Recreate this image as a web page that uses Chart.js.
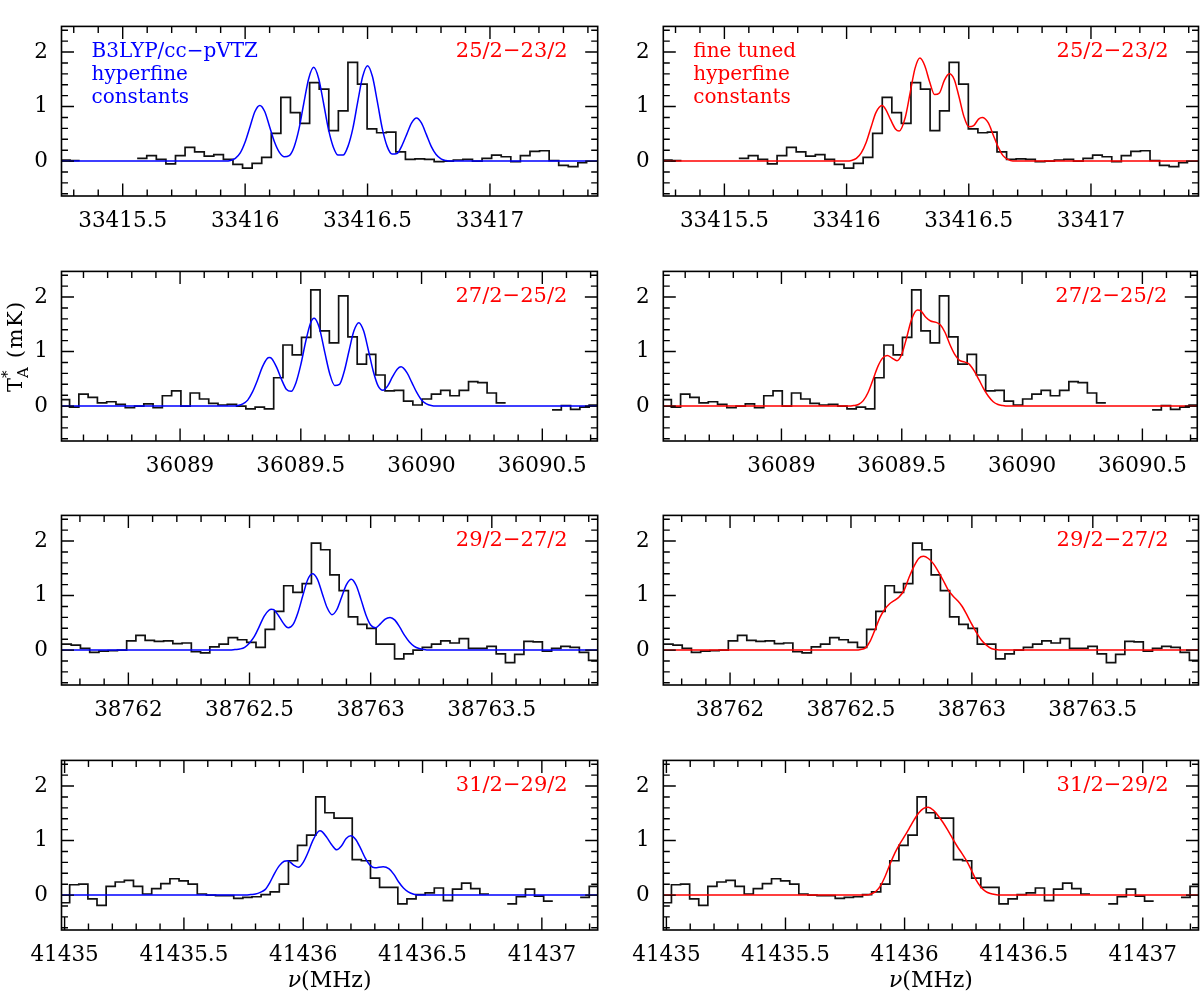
<!DOCTYPE html>
<html>
<head>
<meta charset="utf-8">
<script src="https://cdn.jsdelivr.net/npm/chart.js@4.4.1/dist/chart.umd.min.js"></script>
<style>
  body { margin: 0; background: #fff; }
  #wrap { position: relative; width: 1200px; height: 996px; overflow: hidden; }
  canvas { position: absolute; }
</style>
</head>
<body>
<div id="wrap"></div>
<script>
// frequency range of each row (MHz)
const xMin = [33415.25, 36088.509, 38761.724, 41434.987];
const xMax = [33417.44, 36090.728, 38763.937, 41437.234];
const yMin = -0.64, yMax = 2.47;

const transitions = ['25/2\u221223/2', '27/2\u221225/2', '29/2\u221227/2', '31/2\u221229/2'];
const notesLeft = ['B3LYP/cc\u2212pVTZ', 'hyperfine', 'constants'];
const notesRight = ['fine tuned', 'hyperfine', 'constants'];

// observed spectra: left edge of first channel, channel width, T_A* per channel (null = no data)
const chanStart = [33415.246, 36088.504, 38761.726, 41434.983];
const chanWidth = [0.03913, 0.03842, 0.03813, 0.0382];

const spec1 = [0.02, 0.01, null, null, null, null, null, null,
  0.05, 0.10, 0.03, -0.05, 0.10, 0.25, 0.17, 0.09, 0.12, 0.03,
  -0.06, -0.13, -0.04, 0.07, 0.51, 1.17, 0.89, 0.69, 1.44, 1.32,
  0.56, 0.92, 1.81, 1.41, 0.59, 0.52, 0.53, 0.17, 0.03, 0.04,
  0.03, -0.01, 0.00, 0.02, 0.03, 0.00, 0.05, 0.11, 0.08, -0.01,
  0.10, 0.18, 0.19, 0.01, -0.08, -0.10, -0.03];

const spec2 = [0.12, -0.02, 0.22, 0.16, 0.06, 0.08, 0.03, -0.03, 0.00, 0.04,
  -0.03, 0.19, 0.28, 0.00, 0.24, 0.13, 0.05, 0.02, 0.03, 0.00,
  -0.05, -0.02, -0.05, 0.52, 1.12, 0.94, 1.26, 2.13, 1.38, 1.16,
  2.02, 1.27, 0.77, 0.95, 0.57, 0.28, 0.29, 0.09, 0.02, 0.13,
  0.22, 0.29, 0.19, 0.29, 0.45, 0.43, 0.24, 0.06, null, null,
  null, null, null, -0.07, 0.01, -0.06, -0.02, 0.02];

const spec3 = [0.11, 0.09, 0.03, -0.04, -0.02, -0.01, 0.00, 0.17, 0.27, 0.18,
  0.16, 0.17, 0.12, 0.13, -0.03, -0.05, 0.06, 0.11, 0.23, 0.19,
  0.14, 0.05, 0.38, 0.71, 1.18, 1.06, 1.22, 1.96, 1.84, 1.38,
  1.09, 0.61, 0.47, 0.40, 0.11, 0.11, -0.16, -0.07, 0.00, 0.05,
  0.11, 0.17, 0.13, 0.21, 0.03, 0.03, 0.07, -0.07, -0.23, -0.08,
  0.16, 0.15, -0.02, 0.03, 0.07, 0.05, -0.04, -0.19];

const spec4 = [-0.14, 0.19, 0.20, -0.07, -0.19, 0.16, 0.24, 0.27, 0.16, 0.02,
  0.12, 0.21, 0.30, 0.26, 0.20, 0.02, 0.00, -0.01, -0.01, -0.06,
  -0.04, -0.03, 0.01, 0.06, 0.20, 0.63, 0.91, 1.10, 1.80, 1.51,
  1.41, 1.41, 0.65, 0.63, 0.31, 0.14, 0.14, -0.16, -0.07, 0.01,
  0.04, 0.13, -0.10, 0.11, 0.22, 0.12, 0.02, null, null, -0.16,
  -0.03, 0.11, -0.02, -0.11, null, null, null, -0.04, 0.16];

// model with B3LYP/cc-pVTZ constants [MHz, mK]
const fitCalc1 = [[33415.90, 0], [33415.92, 0.00], [33415.94, 0.01], [33415.96, 0.05], [33415.98, 0.15],
  [33416.00, 0.35], [33416.02, 0.63], [33416.04, 0.91], [33416.06, 1.02], [33416.08, 0.91],
  [33416.10, 0.63], [33416.12, 0.35], [33416.14, 0.16], [33416.16, 0.08], [33416.18, 0.10],
  [33416.20, 0.26], [33416.22, 0.59], [33416.24, 1.07], [33416.26, 1.52], [33416.28, 1.72],
  [33416.30, 1.52], [33416.32, 1.07], [33416.34, 0.59], [33416.36, 0.26], [33416.38, 0.11],
  [33416.40, 0.11], [33416.42, 0.27], [33416.44, 0.60], [33416.46, 1.09], [33416.48, 1.55],
  [33416.50, 1.75], [33416.52, 1.55], [33416.54, 1.09], [33416.56, 0.60], [33416.58, 0.27],
  [33416.60, 0.13], [33416.62, 0.14], [33416.64, 0.28], [33416.66, 0.49], [33416.68, 0.70],
  [33416.70, 0.79], [33416.72, 0.70], [33416.74, 0.49], [33416.76, 0.27], [33416.78, 0.12],
  [33416.80, 0.04], [33416.82, 0.01], [33416.84, 0.00]];

const fitCalc2 = [[36089.20, 0], [36089.22, 0.00], [36089.24, 0.01], [36089.26, 0.04], [36089.28, 0.11],
  [36089.30, 0.26], [36089.32, 0.47], [36089.34, 0.71], [36089.36, 0.87], [36089.37, 0.89],
  [36089.38, 0.87], [36089.40, 0.71], [36089.42, 0.49], [36089.44, 0.31], [36089.46, 0.27],
  [36089.48, 0.43], [36089.50, 0.76], [36089.52, 1.18], [36089.54, 1.52], [36089.555, 1.61],
  [36089.57, 1.52], [36089.58, 1.38], [36089.60, 0.97], [36089.62, 0.59], [36089.64, 0.38],
  [36089.66, 0.40], [36089.68, 0.64], [36089.70, 1.02], [36089.72, 1.38], [36089.74, 1.53],
  [36089.76, 1.38], [36089.78, 1.02], [36089.80, 0.64], [36089.82, 0.37], [36089.84, 0.29],
  [36089.86, 0.37], [36089.88, 0.54], [36089.90, 0.68], [36089.915, 0.72], [36089.94, 0.61],
  [36089.96, 0.43], [36089.98, 0.25], [36090.00, 0.11], [36090.02, 0.04], [36090.04, 0.01],
  [36090.06, 0.00]];

const fitCalc3 = [[38762.42, 0], [38762.44, 0.01], [38762.46, 0.02], [38762.48, 0.05], [38762.50, 0.13],
  [38762.52, 0.25], [38762.54, 0.43], [38762.56, 0.62], [38762.58, 0.73], [38762.59, 0.75],
  [38762.60, 0.74], [38762.62, 0.63], [38762.64, 0.49], [38762.66, 0.41], [38762.68, 0.47],
  [38762.70, 0.69], [38762.72, 1.00], [38762.74, 1.29], [38762.76, 1.40], [38762.78, 1.30],
  [38762.80, 1.04], [38762.82, 0.78], [38762.84, 0.65], [38762.86, 0.74], [38762.88, 0.97],
  [38762.90, 1.20], [38762.92, 1.30], [38762.94, 1.19], [38762.96, 0.93], [38762.98, 0.65],
  [38763.00, 0.46], [38763.02, 0.41], [38763.04, 0.48], [38763.06, 0.57], [38763.08, 0.60],
  [38763.10, 0.55], [38763.12, 0.42], [38763.14, 0.27], [38763.16, 0.15], [38763.18, 0.07],
  [38763.20, 0.03], [38763.22, 0.01], [38763.24, 0.00]];

const fitCalc4 = [[41435.76, 0], [41435.78, 0.01], [41435.80, 0.02], [41435.82, 0.05], [41435.84, 0.10],
  [41435.86, 0.23], [41435.88, 0.40], [41435.90, 0.54], [41435.92, 0.62], [41435.935, 0.63],
  [41435.96, 0.55], [41435.98, 0.51], [41436.00, 0.60], [41436.02, 0.78], [41436.04, 1.00],
  [41436.06, 1.15], [41436.07, 1.18], [41436.08, 1.16], [41436.10, 1.05], [41436.12, 0.92],
  [41436.14, 0.83], [41436.16, 0.90], [41436.18, 1.04], [41436.20, 1.09], [41436.22, 1.02],
  [41436.24, 0.86], [41436.26, 0.68], [41436.28, 0.55], [41436.30, 0.50], [41436.335, 0.52],
  [41436.36, 0.48], [41436.38, 0.38], [41436.40, 0.24], [41436.42, 0.13], [41436.44, 0.06],
  [41436.46, 0.02], [41436.48, 0.00]];

// model with fine tuned constants
const fitTuned1 = [[33416.00, 0], [33416.02, 0.01], [33416.04, 0.05], [33416.06, 0.15], [33416.08, 0.34],
  [33416.10, 0.62], [33416.12, 0.89], [33416.145, 1.02], [33416.16, 0.95], [33416.18, 0.76],
  [33416.20, 0.59], [33416.215, 0.55], [33416.24, 0.80], [33416.26, 1.25], [33416.28, 1.70],
  [33416.30, 1.89], [33416.32, 1.75], [33416.34, 1.45], [33416.36, 1.22], [33416.38, 1.25],
  [33416.40, 1.48], [33416.42, 1.60], [33416.44, 1.50], [33416.46, 1.18], [33416.48, 0.82],
  [33416.50, 0.63], [33416.52, 0.65], [33416.54, 0.77], [33416.555, 0.80], [33416.58, 0.70],
  [33416.60, 0.48], [33416.62, 0.26], [33416.64, 0.10], [33416.66, 0.03], [33416.68, 0.00]];

const fitTuned2 = [[36089.28, 0], [36089.30, 0.01], [36089.32, 0.03], [36089.34, 0.10], [36089.36, 0.25],
  [36089.38, 0.48], [36089.40, 0.72], [36089.42, 0.88], [36089.44, 0.93], [36089.46, 0.88],
  [36089.48, 0.83], [36089.50, 0.95], [36089.52, 1.25], [36089.54, 1.58], [36089.565, 1.76],
  [36089.58, 1.74], [36089.60, 1.63], [36089.62, 1.56], [36089.64, 1.54], [36089.66, 1.49],
  [36089.68, 1.35], [36089.70, 1.13], [36089.72, 0.95], [36089.74, 0.84], [36089.76, 0.81],
  [36089.78, 0.77], [36089.80, 0.65], [36089.82, 0.49], [36089.84, 0.32], [36089.86, 0.18],
  [36089.88, 0.08], [36089.90, 0.03], [36089.92, 0.01], [36089.94, 0.00]];

const fitTuned3 = [[38762.52, 0], [38762.54, 0.01], [38762.56, 0.04], [38762.58, 0.17], [38762.60, 0.38],
  [38762.62, 0.60], [38762.64, 0.75], [38762.66, 0.85], [38762.68, 0.91], [38762.70, 0.98],
  [38762.72, 1.10], [38762.74, 1.33], [38762.76, 1.53], [38762.78, 1.68], [38762.80, 1.72],
  [38762.82, 1.68], [38762.84, 1.59], [38762.86, 1.45], [38762.88, 1.29], [38762.90, 1.12],
  [38762.92, 1.00], [38762.94, 0.91], [38762.96, 0.80], [38762.98, 0.64], [38763.00, 0.47],
  [38763.02, 0.31], [38763.04, 0.18], [38763.06, 0.09], [38763.08, 0.03], [38763.10, 0.01],
  [38763.12, 0.00]];

const fitTuned4 = [[41435.84, 0], [41435.86, 0.02], [41435.88, 0.07], [41435.90, 0.18], [41435.92, 0.36],
  [41435.94, 0.58], [41435.96, 0.78], [41435.98, 0.94], [41436.00, 1.08], [41436.02, 1.23],
  [41436.04, 1.38], [41436.06, 1.51], [41436.08, 1.59], [41436.10, 1.61], [41436.12, 1.56],
  [41436.14, 1.46], [41436.16, 1.34], [41436.18, 1.20], [41436.20, 1.05], [41436.22, 0.90],
  [41436.24, 0.77], [41436.26, 0.63], [41436.28, 0.46], [41436.30, 0.28], [41436.32, 0.15],
  [41436.34, 0.07], [41436.36, 0.03], [41436.38, 0.01], [41436.40, 0.00]];

const spectra = [spec1, spec2, spec3, spec4];
const fitsCalc = [fitCalc1, fitCalc2, fitCalc3, fitCalc4];
const fitsTuned = [fitTuned1, fitTuned2, fitTuned3, fitTuned4];

// layout
const boxTop = [2, 246.5, 491, 735.5];
const boxH = 194;
const BLUE = '#0000ff', RED = '#ff0000';
const FONT = '"DejaVu Serif", serif';

function histPoints(start, w, vals) {
  const pts = [];
  vals.forEach((v, i) => {
    const x0 = start + i * w;
    if (v === null) { pts.push({x: x0, y: null}); return; }
    pts.push({x: x0, y: v}, {x: x0 + w, y: v});
  });
  return pts;
}

function curvePoints(row, arr) {
  const pts = [{x: xMin[row], y: 0}];
  arr.forEach(p => pts.push({x: p[0], y: p[1]}));
  pts.push({x: xMax[row], y: 0});
  return pts;
}

const deco = {
  id: 'deco',
  afterDraw(chart, args, o) {
    const ctx = chart.ctx, a = chart.chartArea;
    const xs = chart.scales.x, ys = chart.scales.y;
    ctx.save();
    ctx.strokeStyle = '#000';
    ctx.lineWidth = 1.4;
    ctx.beginPath();
    for (let i = Math.ceil(xs.min * 10 - 1e-6); i <= Math.floor(xs.max * 10 + 1e-6); i++) {
      const px = xs.getPixelForValue(i / 10);
      const len = i % 5 === 0 ? 12.5 : 6.5;
      ctx.moveTo(px, a.bottom); ctx.lineTo(px, a.bottom - len);
      ctx.moveTo(px, a.top); ctx.lineTo(px, a.top + len);
    }
    for (let i = Math.ceil(ys.min * 5 - 1e-6); i <= Math.floor(ys.max * 5 + 1e-6); i++) {
      const py = ys.getPixelForValue(i / 5);
      const len = i % 5 === 0 ? 12.5 : 6.5;
      ctx.moveTo(a.left, py); ctx.lineTo(a.left + len, py);
      ctx.moveTo(a.right, py); ctx.lineTo(a.right - len, py);
    }
    ctx.stroke();
    ctx.lineWidth = 1.6;
    ctx.strokeRect(a.left, a.top, a.right - a.left, a.bottom - a.top);

    const y2 = ys.getPixelForValue(2);
    ctx.textBaseline = 'middle';
    ctx.fillStyle = RED;
    ctx.textAlign = 'right';
    ctx.font = '21px ' + FONT;
    ctx.fillText(transitions[o.row], a.right - 30, y2);
    if (o.row === 0) {
      ctx.font = '20px ' + FONT;
      ctx.textAlign = 'left';
      ctx.fillStyle = o.col === 0 ? BLUE : RED;
      const notes = o.col === 0 ? notesLeft : notesRight;
      notes.forEach((t, i) => ctx.fillText(t, a.left + 30, y2 + i * 23));
    }

    ctx.fillStyle = '#000';
    if (o.row === 1 && o.col === 0) {
      // T_A^* (mK), rotated
      ctx.save();
      ctx.translate(17, ys.getPixelForValue(1.1));
      ctx.rotate(-Math.PI / 2);
      ctx.textAlign = 'left';
      const big = '21px ' + FONT, small = '15px ' + FONT;
      ctx.font = big;
      const wT = ctx.measureText('T').width;
      ctx.letterSpacing = '1.5px';
      const wR = ctx.measureText('(mK)').width;
      ctx.letterSpacing = '0px';
      ctx.font = small;
      const wS = Math.max(ctx.measureText('*').width, ctx.measureText('A').width);
      const gap = 9;
      let cx = -(wT + wS + gap + wR) / 2;
      ctx.font = big; ctx.fillText('T', cx, 0); cx += wT;
      ctx.font = small; ctx.fillText('*', cx, -9); ctx.fillText('A', cx, 7); cx += wS + gap;
      ctx.font = big; ctx.letterSpacing = '1.5px'; ctx.fillText('(mK)', cx, 0);
      ctx.letterSpacing = '0px';
      ctx.restore();
    }
    if (o.row === 3) {
      const it = 'italic 22px ' + FONT, up = '22px ' + FONT;
      ctx.font = it; const wn = ctx.measureText('\u03bd').width;
      ctx.font = up; const wm = ctx.measureText('(MHz)').width;
      let cx = (a.left + a.right) / 2 - (wn + wm) / 2;
      ctx.textAlign = 'left';
      ctx.font = it; ctx.fillText('\u03bd', cx, a.bottom + 51);
      ctx.font = up; ctx.fillText('(MHz)', cx + wn, a.bottom + 51);
    }
    ctx.restore();
  }
};

const wrap = document.getElementById('wrap');
for (let row = 0; row < 4; row++) {
  for (let col = 0; col < 2; col++) {
    const axisH = row === 3 ? 62 : 44;
    const canvas = document.createElement('canvas');
    canvas.width = 600;
    canvas.height = 2 + boxH + axisH;
    canvas.style.left = (col * 600) + 'px';
    canvas.style.top = (boxTop[row] - 2) + 'px';
    wrap.appendChild(canvas);

    const yAxisW = col === 0 ? 61.5 : 63.3;
    const padRight = col === 0 ? 2.3 : 1.5;
    const fit = col === 0 ? fitsCalc[row] : fitsTuned[row];

    new Chart(canvas.getContext('2d'), {
      type: 'line',
      data: {
        datasets: [
          {
            data: curvePoints(row, fit),
            borderColor: col === 0 ? BLUE : RED,
            borderWidth: 1.5,
            pointRadius: 0,
            cubicInterpolationMode: 'monotone',
            clip: 0
          },
          {
            data: histPoints(chanStart[row], chanWidth[row], spectra[row]),
            borderColor: '#111',
            borderWidth: 1.7,
            pointRadius: 0,
            tension: 0,
            spanGaps: false,
            clip: 0
          }
        ]
      },
      options: {
        responsive: false,
        animation: false,
        devicePixelRatio: 1,
        layout: { padding: { left: 0, right: padRight, top: 2, bottom: 0 } },
        plugins: {
          legend: { display: false },
          tooltip: { enabled: false },
          deco: { row: row, col: col }
        },
        scales: {
          x: {
            type: 'linear',
            min: xMin[row],
            max: xMax[row],
            afterFit: s => { s.height = axisH; },
            grid: { display: false, drawTicks: false },
            border: { display: false },
            ticks: {
              stepSize: 0.5,
              includeBounds: false,
              autoSkip: false,
              maxRotation: 0,
              padding: 13,
              color: '#000',
              font: { family: FONT, size: 21.5 },
              callback: v => String(Math.round(v * 10) / 10)
            }
          },
          y: {
            type: 'linear',
            min: yMin,
            max: yMax,
            afterFit: s => { s.width = yAxisW; },
            grid: { display: false, drawTicks: false },
            border: { display: false },
            ticks: {
              stepSize: 1,
              includeBounds: false,
              padding: 13.5,
              color: '#000',
              font: { family: FONT, size: 21.5 },
              callback: v => String(v)
            }
          }
        }
      },
      plugins: [deco]
    });
  }
}
</script>
</body>
</html>
